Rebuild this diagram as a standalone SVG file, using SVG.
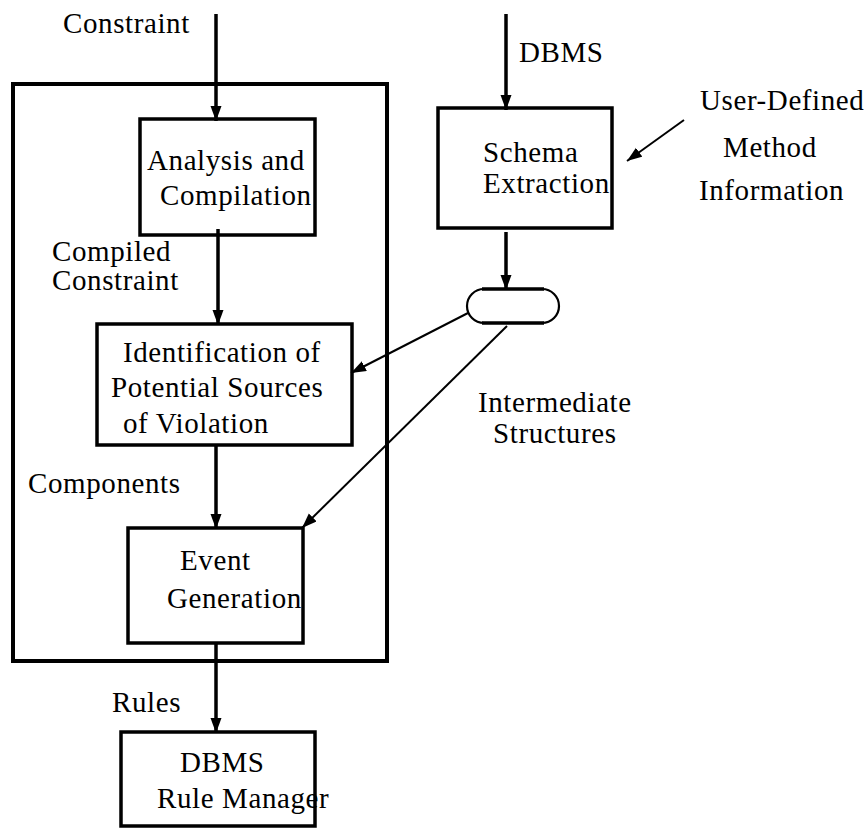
<svg xmlns="http://www.w3.org/2000/svg" width="865" height="829" viewBox="0 0 865 829">
<style>
text{font-family:'Liberation Serif','DejaVu Serif','Times New Roman',serif;font-size:29px;fill:#000;letter-spacing:0.6px}
.box{fill:none;stroke:#000;stroke-width:3.5}
.thick{fill:none;stroke:#000;stroke-width:3.5}
.thin{fill:none;stroke:#000;stroke-width:2}
</style>
<defs>
<marker id="ah" markerUnits="userSpaceOnUse" markerWidth="16" markerHeight="12" refX="15" refY="5.5" orient="auto">
<path d="M0,0 L15,5.5 L0,11 z" fill="#000"/>
</marker>
</defs>
<rect width="865" height="829" fill="#fff"/>
<g font-family="Liberation Serif, DejaVu Serif, serif">
<g id="outer"><rect x="13" y="84" width="374" height="577" fill="none" stroke="#000" stroke-width="4"/></g>
<g id="analysis"><rect class="box" x="140" y="119" width="175" height="116"/>
<text x="147" y="170">Analysis and</text><text x="160" y="205">Compilation</text></g>
<g id="identification"><rect class="box" x="97" y="324" width="255" height="121"/>
<text x="123" y="362">Identification of</text><text x="111" y="397">Potential Sources</text><text x="123" y="433">of Violation</text></g>
<g id="event"><rect class="box" x="128" y="528" width="175" height="115"/>
<text x="180" y="570">Event</text><text x="167" y="608">Generation</text></g>
<g id="rulemanager"><rect class="box" x="121" y="732" width="194" height="94"/>
<text x="180" y="772">DBMS</text><text x="157" y="808">Rule Manager</text></g>
<g id="schema"><rect class="box" x="438" y="108" width="174" height="120"/>
<text x="483" y="162">Schema</text><text x="483" y="193">Extraction</text></g>
<g id="intermediate"><rect x="467" y="289" width="92" height="34" rx="17" fill="#fff" stroke="#000" stroke-width="2.2"/>
<path d="M482,289 H544 M482,323 H544" stroke="#000" stroke-width="3.5" fill="none"/>
<text x="478" y="412">Intermediate</text><text x="493" y="443">Structures</text></g>
<g id="labels">
<text x="63" y="33">Constraint</text>
<text x="52" y="261">Compiled</text>
<text x="52" y="290">Constraint</text>
<text x="28" y="493">Components</text>
<text x="112" y="712">Rules</text>
<text x="519" y="62">DBMS</text>
<text x="700" y="110">User-Defined</text>
<text x="723" y="157">Method</text>
<text x="699" y="200">Information</text>
</g>
</g>
<g id="connectors">
<line class="thick" x1="216" y1="14" x2="216" y2="121" marker-end="url(#ah)"/>
<line class="thick" x1="218" y1="229" x2="218" y2="325" marker-end="url(#ah)"/>
<line class="thick" x1="216" y1="445" x2="216" y2="529" marker-end="url(#ah)"/>
<line class="thick" x1="216" y1="643" x2="216" y2="733" marker-end="url(#ah)"/>
<line class="thick" x1="506" y1="14" x2="506" y2="110" marker-end="url(#ah)"/>
<line class="thick" x1="506" y1="232" x2="506" y2="290" marker-end="url(#ah)"/>
<line class="thin" x1="684" y1="120" x2="627" y2="161" marker-end="url(#ah)"/>
<line class="thin" x1="468" y1="313" x2="351" y2="373" marker-end="url(#ah)"/>
<line class="thin" x1="507" y1="326" x2="302" y2="528" marker-end="url(#ah)"/>
</g>
</svg>
